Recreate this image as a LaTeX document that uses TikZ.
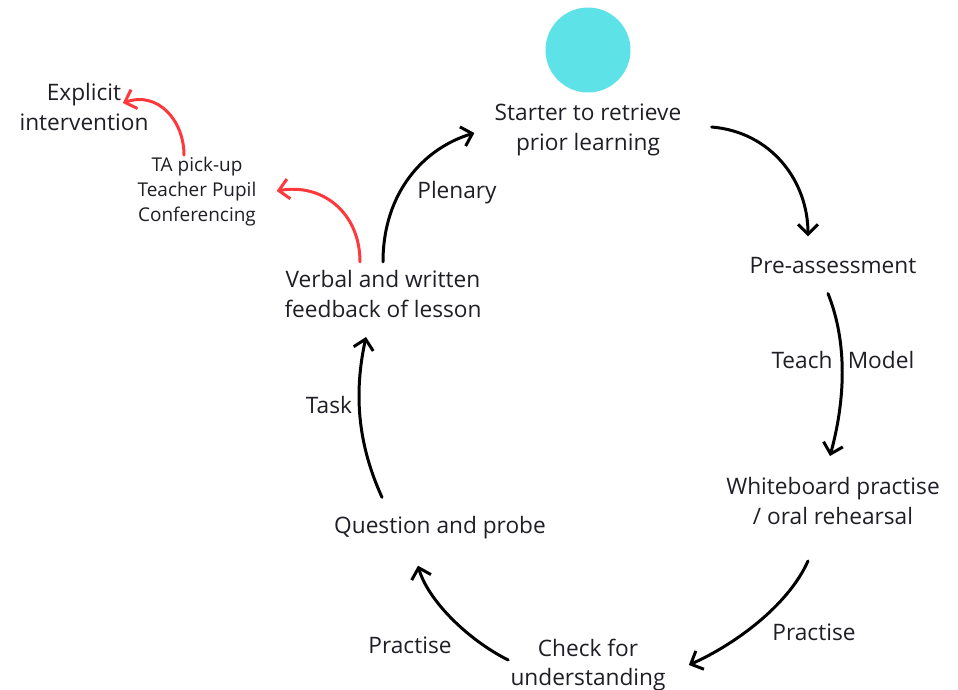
\documentclass[tikz,border=0pt]{standalone}
\usepackage{fontspec}
\setmainfont{Open Sans}
\usetikzlibrary{arrows.meta}
\definecolor{lpcyan}{RGB}{93,226,231}
\definecolor{lpred}{RGB}{255,56,60}
\definecolor{lptext}{RGB}{30,30,36}

\begin{document}
\begin{tikzpicture}[x=0.02cm, y=-0.02cm,
  stage/.style={inner sep=0pt, align=center, text=lptext,
    font=\fontsize{12.9}{17}\selectfont},
  sidenote/.style={inner sep=0pt, align=center, text=lptext,
    font=\fontsize{10.8}{14.2}\selectfont},
  lbl/.style={inner sep=0pt, text=lptext, font=\fontsize{12.9}{17}\selectfont},
  arr/.style={-{Straight Barb[length=2mm, width=4mm]}, line width=1.7pt,
    line cap=round, line join=round},
  redarr/.style={arr, lpred}]
\useasboundingbox (0,0) rectangle (958,690);
% Marker dot
\node[circle, fill=lpcyan, minimum size=1.7cm, inner sep=0pt] (dot) at (588,50) {};
% Lesson stages
\node[stage] (starter) at (588,130) {Starter to retrieve\\prior learning};
\node[stage] (preassess) at (833,266) {Pre-assessment};
\node[stage] (whiteboard) at (833,501) {Whiteboard practise\\/ oral rehearsal};
\node[stage] (check) at (588,665) {Check for\\understanding};
\node[stage] (question) at (440,528) {Question and probe};
\node[stage] (feedback) at (383,294) {Verbal and written\\feedback of lesson};
% Side branch
\node[sidenote] (pickup) at (197,192) {TA pick-up\\Teacher Pupil\\Conferencing};
\node[stage] (explicit) at (84,107) {Explicit\\intervention};
% Labels
\node[lbl] (plenary) at (457,193) {Plenary};
\node[lbl] (teach) at (802,360) {Teach};
\node[lbl] (model) at (881,360) {Model};
\node[lbl] (practiseR) at (814,632) {Practise};
\node[lbl] (practiseL) at (410,645) {Practise};
\node[lbl] (task) at (329,405) {Task};
% Cycle arrows
\draw[arr] ([shift={(30,-3)}]starter.east)
  .. controls +(60,5) and +(0,-55) .. ([shift={(-25,-21)}]preassess.north);
\draw[arr] ([shift={(-5,19)}]preassess.south)
  .. controls +(20,50) and +(15,-55) .. ([shift={(-3,-21)}]whiteboard.north);
\draw[arr] ([shift={(-25,36)}]whiteboard.south)
  .. controls +(-20,45) and +(45,-20) .. ([shift={(23,0)}]check.east);
\draw[arr] ([shift={(-2,-5)}]check.west)
  .. controls +(-40,-20) and +(10,35) .. ([shift={(-22,26)}]question.south);
\draw[arr] ([shift={(-58,-19)}]question.north)
  .. controls +(-25,-55) and +(-12,55) .. ([shift={(-17,19)}]feedback.south);
\draw[arr] ([shift={(0,-8)}]feedback.north)
  .. controls +(0,-70) and +(-50,15) .. ([shift={(-20,3)}]starter.west);
% Red branch
\draw[redarr] ([shift={(-23,-8)}]feedback.north)
  .. controls +(0,-50) and +(45,-8) .. ([shift={(20,-1)}]pickup.east);
\draw[redarr] ([shift={(-13,-2)}]pickup.north)
  .. controls +(0,-35) and +(35,-12) .. ([shift={(-26,-4)}]explicit.east);
\end{tikzpicture}
\end{document}
